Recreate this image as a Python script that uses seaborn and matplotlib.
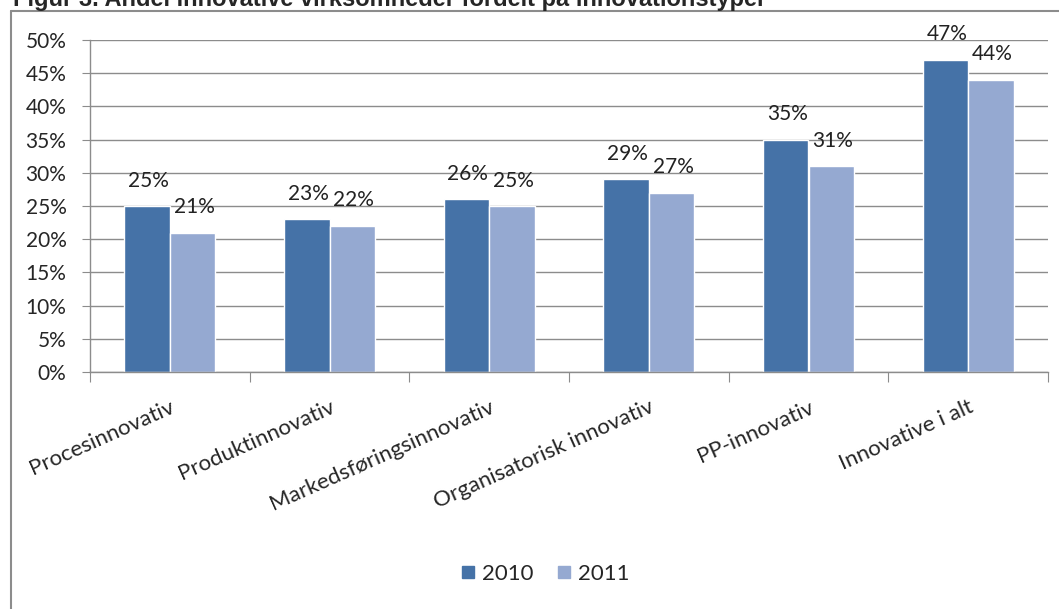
import numpy as np
import pandas as pd
import seaborn as sns
import matplotlib.pyplot as plt
from matplotlib.lines import Line2D

# data
categories = ['Procesinnovativ', 'Produktinnovativ', 'Markedsføringsinnovativ',
              'Organisatorisk innovativ', 'PP-innovativ', 'Innovative i alt']
vals_2010 = [0.25, 0.23, 0.26, 0.29, 0.35, 0.47]
vals_2011 = [0.21, 0.22, 0.25, 0.27, 0.31, 0.44]
years = ['2010', '2011']
colors = ['#4572A7', '#95A9D1']

df = pd.DataFrame({
    'kategori': categories * 2,
    'aar': [years[0]] * 6 + [years[1]] * 6,
    'andel': vals_2010 + vals_2011,
})

sns.set_style('white')
plt.rcParams['font.family'] = ['Lato', 'DejaVu Sans']

fig = plt.figure(figsize=(10.59, 6.09), dpi=100)
ax = fig.add_axes([90 / 1059, 1 - 372 / 609, (1048 - 90) / 1059, (372 - 40) / 609])

sns.barplot(data=df, x='kategori', y='andel', hue='aar', palette=colors,
            width=0.57, gap=0, saturation=1, ax=ax, legend=False)

# value labels above each bar
for cont, vals in zip(ax.containers, [vals_2010, vals_2011]):
    for patch, v in zip(cont.patches, vals):
        ax.annotate(f'{v:.0%}', (patch.get_x() + patch.get_width() / 2, v),
                    xytext=(1, 14), textcoords='offset points',
                    ha='center', va='baseline', fontsize=15, color='#222222')

ax.set_ylim(0, 0.5)
ax.set_xlim(-0.5, len(categories) - 0.5)
yt = np.arange(0, 0.51, 0.05)
ax.set_yticks(yt)
ax.set_yticklabels([f'{int(round(t * 100))}%' for t in yt], fontsize=15)
ax.yaxis.grid(True, color='#8C8C8C', linewidth=1)
ax.set_axisbelow(True)
ax.set_xlabel('')
ax.set_ylabel('')

# category ticks at boundaries, labels rotated under the centres
ax.set_xticks(np.arange(-0.5, len(categories), 1))
ax.set_xticklabels([])
ax.set_xticks(np.arange(len(categories)), minor=True)
ax.set_xticklabels(categories, minor=True, rotation=24, ha='right', va='top',
                   rotation_mode='anchor', fontsize=16)
ax.tick_params(axis='x', which='major', length=7, color='#8C8C8C', direction='out', bottom=True)
ax.tick_params(axis='x', which='minor', length=0, pad=18)
ax.tick_params(axis='y', length=6, color='#8C8C8C', left=True, pad=11)

for s in ['top', 'right']:
    ax.spines[s].set_visible(False)
for s in ['left', 'bottom']:
    ax.spines[s].set_color('#8C8C8C')
    ax.spines[s].set_linewidth(1)

# legend
handles = [Line2D([0], [0], marker='s', linestyle='', markersize=8,
                  markerfacecolor=c, markeredgecolor=c) for c in colors]
fig.legend(handles, years, loc='center', bbox_to_anchor=(545 / 1059, 1 - 574 / 609),
           ncol=2, frameon=False, fontsize=16, handletextpad=0.3, columnspacing=1.0,
           handlelength=0.7)

# outer frame (left and top edges) and the clipped title
fig.add_artist(Line2D([11 / 1059, 11 / 1059], [0, 1 - 11 / 609], transform=fig.transFigure,
                      color='#8C8C8C', linewidth=1.5))
fig.add_artist(Line2D([11 / 1059, 1], [1 - 11 / 609, 1 - 11 / 609], transform=fig.transFigure,
                      color='#8C8C8C', linewidth=1.5))
fig.text(13 / 1059, 1 - 6 / 609, 'Figur 3. Andel innovative virksomheder fordelt på innovationstyper',
         fontsize=17, fontweight='bold', family='Liberation Sans', ha='left', va='baseline')

fig.savefig('out.png', dpi=100)
